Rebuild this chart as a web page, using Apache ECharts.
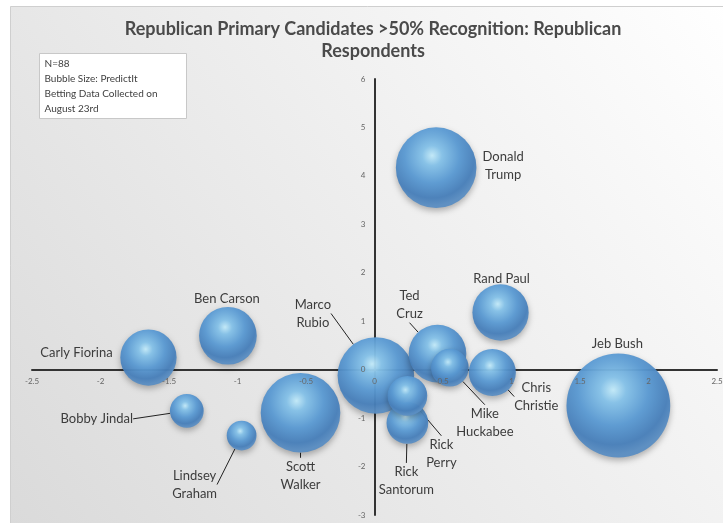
<!DOCTYPE html>
<html>
<head>
<meta charset="utf-8">
<script src="https://cdn.jsdelivr.net/npm/echarts@6/dist/echarts.min.js"></script>
<style>
  html, body { margin: 0; padding: 0; background: #fff; }
  #chart { width: 723px; height: 523px; }
</style>
</head>
<body>
<div id="chart"></div>
<script>
// drawing order = stacking order (later bubbles on top)
const candidates = ['Jeb Bush', 'Donald Trump', 'Scott Walker', 'Marco Rubio', 'Ted Cruz', 'Mike Huckabee',
  'Chris Christie', 'Rick Santorum', 'Rick Perry', 'Rand Paul', 'Ben Carson', 'Carly Fiorina', 'Bobby Jindal', 'Lindsey Graham']
const xValues = [1.78, 0.45, -0.54, 0.01, 0.46, 0.55, 0.86, 0.24, 0.24, 0.92, -1.07, -1.65, -1.37, -0.97]
const yValues = [-0.74, 4.17, -0.89, -0.12, 0.33, 0.04, -0.06, -1.10, -0.54, 1.18, 0.70, 0.25, -0.85, -1.36]
// PredictIt price (cents), drives bubble area
const betting = [34, 20.5, 20, 18.5, 10.5, 4.5, 7, 5.5, 5, 10, 10.5, 10, 3.6, 2.8]

const xMin = -2.5, xMax = 2.5, xStep = 0.5
const yMin = -3, yMax = 6, yStep = 1

const noteLines = ['N=88', 'Bubble Size: PredictIt', 'Betting Data Collected on', 'August 23rd']

// label placement, relative to the bubble centre
const labelShift = {
  'Jeb Bush': [-1, -62], 'Donald Trump': [67, -2], 'Scott Walker': [0, 63], 'Marco Rubio': [-63, -62],
  'Ted Cruz': [-28, -49], 'Mike Huckabee': [35, 55], 'Chris Christie': [44, 24], 'Rick Santorum': [-1, 58],
  'Rick Perry': [34, 58], 'Rand Paul': [1, -34], 'Ben Carson': [-1, -37], 'Carly Fiorina': [-72, -5],
  'Bobby Jindal': [-90, 8], 'Lindsey Graham': [-47, 49]
}
const singleLine = ['Jeb Bush', 'Rand Paul', 'Ben Carson', 'Carly Fiorina', 'Bobby Jindal']
const noLeader = ['Jeb Bush', 'Donald Trump', 'Rand Paul', 'Ben Carson', 'Carly Fiorina']

const font = 'Lato, "Open Sans", sans-serif'

// grid box, and where the zero lines fall inside it
const W = 723, H = 523
const grid = { left: 32, right: 6, top: 79, bottom: 8 }
const gridW = W - grid.left - grid.right
const gridH = H - grid.top - grid.bottom
const xZeroShift = gridH * (0 - yMin) / (yMax - yMin)
const yZeroShift = gridW * (0 - xMin) / (xMax - xMin)

const sphere = {
  type: 'radial', x: 0.45, y: 0.35, r: 0.62,
  colorStops: [
    { offset: 0, color: '#c4ecfb' },
    { offset: 0.2, color: '#86c3ea' },
    { offset: 0.55, color: '#5b9bd4' },
    { offset: 0.85, color: '#4880bb' },
    { offset: 1, color: '#5a8ec3' }
  ]
}

const chart = echarts.init(document.getElementById('chart'))

const data = candidates.map((name, i) => ({
  name: name,
  value: [xValues[i], yValues[i], betting[i]],
  labelLine: { show: !noLeader.includes(name) }
}))

// line axis sits under the bubbles, label axis over them
const makeAxes = (min, max, step, pos, shift, margin) => [
  {
    type: 'value', min: min, max: max, interval: step, position: pos, offset: -shift, z: 0,
    splitLine: { show: false }, axisTick: { show: false }, axisLabel: { show: false },
    axisLine: { onZero: false, lineStyle: { color: '#333', width: 2 } }
  },
  {
    type: 'value', min: min, max: max, interval: step, position: pos, offset: -shift, z: 5,
    splitLine: { show: false }, axisTick: { show: false }, axisLine: { show: false },
    axisLabel: { fontFamily: font, fontSize: 8, color: '#666', margin: margin }
  }
]

const options = {
  backgroundColor: '#fff',
  animation: false,
  title: {
    text: 'Republican Primary Candidates >50% Recognition: Republican\nRespondents',
    left: 368,
    top: 13,
    textAlign: 'center',
    textStyle: { fontFamily: font, fontSize: 18, fontWeight: 'bold', color: '#4a4a4a', lineHeight: 22 }
  },
  graphic: [
    {
      type: 'rect', left: 10, top: 6, z: -10, silent: true,
      shape: { width: 720, height: 520 },
      style: {
        stroke: '#cfcfcf', lineWidth: 1,
        fill: { type: 'linear', x: 1, y: 0, x2: 0, y2: 1,
          colorStops: [{ offset: 0, color: '#ffffff' }, { offset: 1, color: '#dadada' }] }
      }
    },
    {
      type: 'group', left: 39, top: 53, z: 10,
      children: [
        { type: 'rect', shape: { width: 147, height: 65 }, style: { fill: '#fff', stroke: '#c8c8c8', lineWidth: 1 } },
        { type: 'text', left: 5, top: 3,
          style: { text: noteLines.join('\n'), font: '10px ' + font, fill: '#404040', lineHeight: 15 } }
      ]
    }
  ],
  grid: Object.assign({ outerBoundsMode: 'none', containLabel: false }, grid),
  xAxis: makeAxes(xMin, xMax, xStep, 'bottom', xZeroShift, 8),
  yAxis: makeAxes(yMin, yMax, yStep, 'left', yZeroShift, 9),
  series: [
    {
      type: 'scatter',
      xAxisIndex: 0,
      yAxisIndex: 0,
      data: data,
      symbolSize: (val) => 17.8 * Math.sqrt(val[2]),
      itemStyle: {
        color: sphere,
        opacity: 0.95,
        shadowBlur: 6,
        shadowOffsetY: 3,
        shadowColor: 'rgba(0,0,0,0.3)'
      },
      emphasis: { disabled: true },
      label: {
        show: true,
        position: 'inside',
        fontFamily: font,
        fontSize: 13,
        lineHeight: 18,
        color: '#333',
        formatter: (p) => singleLine.includes(p.name) ? p.name : p.name.replace(' ', '\n')
      },
      labelLine: { show: true, lineStyle: { color: '#222', width: 1 } },
      labelLayout: (p) => {
        const s = labelShift[candidates[p.dataIndex]]
        return { dx: s[0], dy: s[1] }
      }
    }
  ]
}
chart.setOption(options)
</script>
</body>
</html>
